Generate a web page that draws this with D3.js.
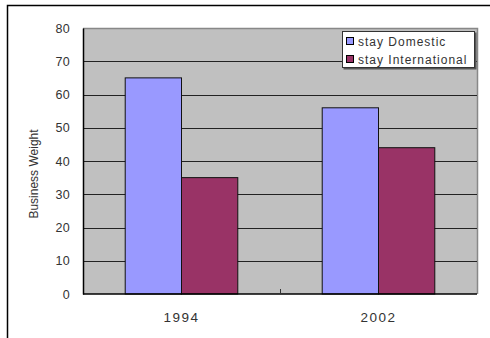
<!DOCTYPE html>
<html>
<head>
<meta charset="utf-8">
<script src="https://cdn.jsdelivr.net/npm/d3@7"></script>
<style>
  html, body { margin: 0; padding: 0; background: #fff; }
  svg { display: block; }
  text { font-family: "Liberation Sans", Arial, sans-serif; fill: #333; }
</style>
</head>
<body>
<div id="chart"></div>
<script>
// Business weight by year, split into domestic and international stays
const years = ["1994", "2002"];
const seriesNames = ["stay Domestic", "stay International"];
const domestic = [65, 56];
const international = [35, 44];
const yTicks = [0, 10, 20, 30, 40, 50, 60, 70, 80];
const yTitle = "Business Weight";

const W = 490, H = 338;
const plot = { left: 83, top: 28, right: 477, bottom: 294 };
const colors = ["#9999FF", "#993366"];

const svg = d3.select("#chart").append("svg")
  .attr("width", W).attr("height", H);

// outer frame: top and left edges
svg.append("path")
  .attr("d", `M7.5,${H} L7.5,5.5 L${W},5.5`)
  .attr("fill", "none").attr("stroke", "#000").attr("stroke-width", 1.5);

const x0 = d3.scaleBand().domain(years).range([plot.left, plot.right]);
const x1 = d3.scaleBand().domain(seriesNames)
  .range([0, x0.bandwidth()]).paddingOuter(0.75).paddingInner(0);
const y = d3.scaleLinear().domain([0, 80]).range([plot.bottom, plot.top]);

// plot background
svg.append("rect")
  .attr("x", plot.left).attr("y", plot.top)
  .attr("width", plot.right - plot.left).attr("height", plot.bottom - plot.top)
  .attr("fill", "#C0C0C0");

// right/top border of plot area
svg.append("path")
  .attr("d", `M${plot.left},${plot.top + 0.5} L${plot.right + 0.5},${plot.top + 0.5} L${plot.right + 0.5},${plot.bottom}`)
  .attr("fill", "none").attr("stroke", "#888").attr("stroke-width", 1.5);

// gridlines
svg.append("g").selectAll("line")
  .data(yTicks.filter(d => d > 0 && d < 80))
  .join("line")
  .attr("x1", plot.left).attr("x2", plot.right)
  .attr("y1", d => Math.round(y(d)) + 0.5).attr("y2", d => Math.round(y(d)) + 0.5)
  .attr("stroke", "#222").attr("stroke-width", 1);

// bars
const data = years.map((yr, i) => ({ year: yr, values: [domestic[i], international[i]] }));
const groups = svg.append("g").selectAll("g")
  .data(data).join("g")
  .attr("transform", d => `translate(${x0(d.year)},0)`);
groups.selectAll("rect")
  .data(d => d.values.map((v, j) => ({ name: seriesNames[j], v, j })))
  .join("rect")
  .attr("x", d => x1(d.name))
  .attr("width", x1.bandwidth())
  .attr("y", d => y(d.v))
  .attr("height", d => y(0) - y(d.v))
  .attr("fill", d => colors[d.j])
  .attr("stroke", "#111").attr("stroke-width", 1);

// y axis
const yAxis = svg.append("g")
  .attr("transform", `translate(${plot.left},0)`)
  .call(d3.axisLeft(y).tickValues(yTicks).tickSize(0).tickPadding(13));
yAxis.select(".domain").attr("stroke", "#000").attr("stroke-width", 1.5);
yAxis.selectAll(".tick text")
  .attr("font-size", 12.5).attr("fill", "#333").style("letter-spacing", "0.3px");

// x axis with inner ticks at category boundaries
const xAxis = svg.append("g")
  .attr("transform", `translate(0,${plot.bottom})`);
xAxis.append("line")
  .attr("x1", plot.left).attr("x2", plot.right)
  .attr("stroke", "#000").attr("stroke-width", 1.5);
xAxis.selectAll("line.tk")
  .data(years.slice(1))
  .join("line").attr("class", "tk")
  .attr("x1", d => x0(d) + 0.5).attr("x2", d => x0(d) + 0.5)
  .attr("y1", 0).attr("y2", -5)
  .attr("stroke", "#333");
xAxis.selectAll("text")
  .data(years)
  .join("text")
  .attr("x", d => x0(d) + x0.bandwidth() / 2)
  .attr("y", 28)
  .attr("text-anchor", "middle")
  .attr("font-size", 13.5)
  .style("letter-spacing", "1.5px")
  .text(d => d);

// y axis title
svg.append("text")
  .attr("transform", "translate(38,174) rotate(-90)")
  .attr("text-anchor", "middle")
  .attr("font-size", 12)
  .text(yTitle);

// legend
const lg = svg.append("g").attr("transform", "translate(342,31)");
lg.append("rect")
  .attr("x", 1.5).attr("y", 1.5).attr("width", 133).attr("height", 37)
  .attr("fill", "#555");
lg.append("rect")
  .attr("x", 0.5).attr("y", 0.5).attr("width", 132).attr("height", 36)
  .attr("fill", "#fff").attr("stroke", "#333").attr("stroke-width", 1);
seriesNames.forEach((name, i) => {
  lg.append("rect")
    .attr("x", 4.5).attr("y", 6.5 + i * 18).attr("width", 7).attr("height", 7)
    .attr("fill", colors[i]).attr("stroke", "#000");
  lg.append("text")
    .attr("x", 16).attr("y", 15 + i * 18)
    .attr("font-size", 12)
    .style("letter-spacing", "1px")
    .text(name);
});
</script>
</body>
</html>
